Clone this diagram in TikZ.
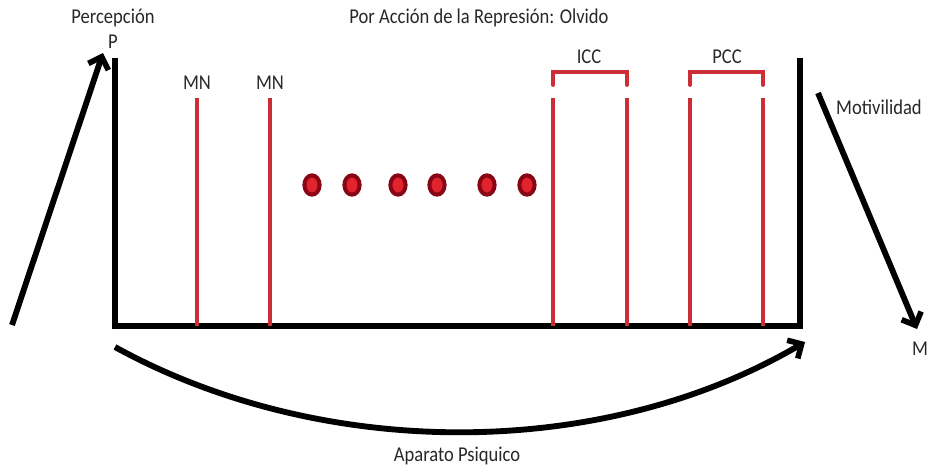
\documentclass[tikz,border=0pt]{standalone}
\usepackage{fontspec}
\setmainfont{Carlito}[FakeStretch=0.88]
\usetikzlibrary{arrows.meta}
\usetikzlibrary{shapes.geometric}

\definecolor{rojo}{RGB}{205,45,55}
\definecolor{rojoosc}{RGB}{135,5,20}
\definecolor{rojoclaro}{RGB}{225,35,45}
\definecolor{texto}{RGB}{40,40,40}

\begin{document}
\begin{tikzpicture}[x=0.03cm,y=-0.03cm,
		>={Straight Barb[length=9pt,width=18pt,line width=4.8pt]},
		marco/.style={line width=5pt},
		linea/.style={draw=rojo,line width=3.2pt},
		flecha/.style={->,line width=5pt},
		punto/.style={ellipse,draw=rojoosc,fill=rojoclaro,line width=3.4pt,minimum width=13pt,minimum height=16.5pt,inner sep=0pt},
		etq/.style={text=texto,font=\fontsize{18}{20}\selectfont,inner sep=0pt}]
			\useasboundingbox (0,0) rectangle (929,472);
			\begin{scope}
				\coordinate (ai) at (115,58);
				\coordinate (bi) at (115,326);
				\coordinate (bd) at (800,326);
				\coordinate (ad) at (800,58);
				\draw[marco] (ai) -- (bi) -- (bd) -- (ad);
			\end{scope}
			\node[etq] (percepcion) at (113,18) {Percepción};
			\node[etq] (p) at (113,42) {P};
			\node[etq] (titulo) at (479,18) {Por Acción de la Represión: Olvido};
			\node[etq] (mn1) at (197,83) {MN};
			\node[etq] (mn2) at (270,83) {MN};
			\node[etq] (icc) at (589,57) {ICC};
			\node[etq] (pcc) at (727,57) {PCC};
			\node[etq] (motil) at (879,107) {Motivilidad};
			\node[etq] (m) at (920,349) {M};
			\node[etq] (aparato) at (457,456) {Aparato Psiquico};
			\draw[linea] (197,98) -- (197,326);
			\draw[linea] (270,98) -- (270,326);
			\foreach \x in {553,627,690,763}
				\draw[linea] (\x,98) -- (\x,326);
			\draw[linea,line cap=round] (553,85) -- (553,72) -- (627,72) -- (627,85);
			\draw[linea,line cap=round] (690,85) -- (690,72) -- (763,72) -- (763,85);
			\foreach \x [count=\i] in {312,352,398,437,487,527}
				\node[punto] (d\i) at (\x,185) {};
			\coordinate (fi) at (12,325);
			\coordinate (ff) at (103,53);
			\draw[flecha] (fi) -- (ff);
			\coordinate (gi) at (818,93);
			\coordinate (gf) at (917,329);
			\draw[flecha] (gi) -- (gf);
			\coordinate (ci) at (115,347);
			\coordinate (cf) at (805,342);
			\draw[flecha] (ci) .. controls (320,460) and (600,462) .. (cf);
			\end{tikzpicture}
\end{document}
